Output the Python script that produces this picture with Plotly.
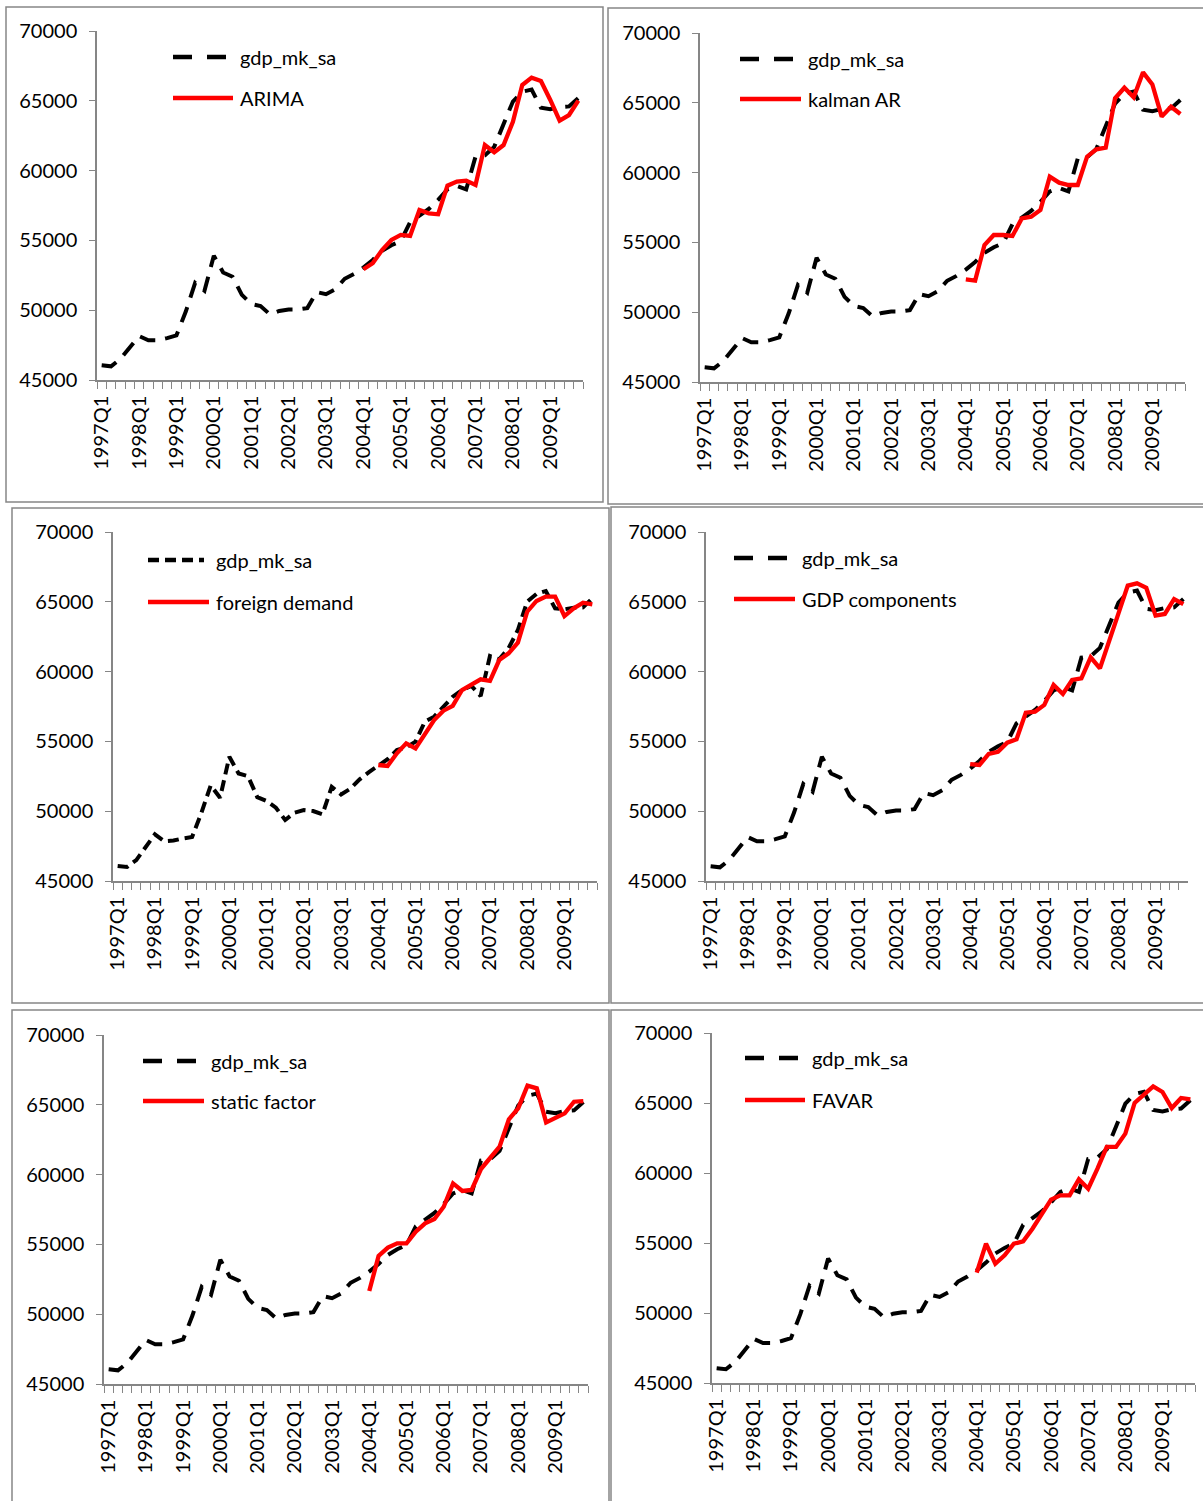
import plotly.graph_objects as go

W, H = 1203, 1501

# ---------------- data ----------------
quarters = [f"{y}Q{q}" for y in range(1997, 2010) for q in range(1, 5)]
tick_text = [q if q.endswith("Q1") else "" for q in quarters]
forecast_quarters = quarters[28:]  # 2004Q1 .. 2009Q4

y_ticks = [45000, 50000, 55000, 60000, 65000, 70000]

gdp_mk_sa = [46050, 45980, 46500, 47300, 48150, 47850, 47850, 48000, 48200, 49900,
             51950, 51400, 53900, 52700, 52400, 51100, 50450, 50300, 49700, 49950,
             50050, 50050, 50150, 51300, 51150, 51500, 52250, 52600, 53050, 53600,
             54250, 54650, 54950, 56300, 56800, 57250, 57900, 58650, 58900, 58650,
             61000, 61100, 61700, 63400, 64950, 65650, 65800, 64500, 64400, 64550,
             64600, 65200]

gdp_mk_sa_fd = [46070, 46000, 46500, 47380, 48340, 47850, 47900, 48050, 48150, 49890,
                51850, 50960, 53900, 52700, 52510, 51010, 50730, 50250, 49370, 49890,
                50080, 50010, 49770, 51750, 51200, 51610, 52280, 52800, 53230, 53720,
                54380, 54570, 54980, 56410, 56770, 57440, 58200, 58680, 58970, 58250,
                61120, 60880, 61670, 62980, 65010, 65560, 65770, 64530, 64460, 64580,
                64600, 65250]

arima = [52930, 53360, 54310, 55030, 55390, 55320, 57180, 56940, 56870, 58920,
         59210, 59280, 58970, 61830, 61310, 61830, 63500, 66130, 66660, 66420,
         65060, 63580, 63980, 65010]
kalman_ar = [52350, 52260, 54810, 55530, 55530, 55460, 56720, 56840, 57320, 59710,
             59280, 59110, 59110, 61140, 61670, 61790, 65320, 66080, 65390, 67180,
             66320, 64010, 64720, 64200]
foreign_demand = [53310, 53240, 54150, 54860, 54500, 55580, 56530, 57200, 57540, 58680,
                  59090, 59450, 59330, 60830, 61310, 62070, 64290, 65060, 65370, 65370,
                  63980, 64530, 64940, 64820]
gdp_components = [53380, 53310, 54100, 54260, 54910, 55150, 57060, 57130, 57610, 59040,
                  58400, 59400, 59520, 61020, 60230, 62310, 64170, 66160, 66320, 66010,
                  64010, 64130, 65200, 64840]
static_factor = [51660, 54170, 54770, 55080, 55080, 55910, 56510, 56820, 57700, 59370,
                 58830, 58900, 60400, 61170, 62000, 63960, 64750, 66370, 66180, 63740,
                 64080, 64390, 65220, 65270]
favar = [52880, 54950, 53520, 54120, 54950, 55120, 56020, 57020, 58100, 58400,
         58400, 59550, 58880, 60310, 61860, 61860, 62810, 65000, 65600, 66190,
         65790, 64640, 65360, 65260]

panels = [
    ("ARIMA", arima, gdp_mk_sa, "long"),
    ("kalman AR", kalman_ar, gdp_mk_sa, "long"),
    ("foreign demand", foreign_demand, gdp_mk_sa_fd, "short"),
    ("GDP components", gdp_components, gdp_mk_sa, "long"),
    ("static factor", static_factor, gdp_mk_sa, "long"),
    ("FAVAR", favar, gdp_mk_sa, "long"),
]

# ---------------- layout geometry (pixels) ----------------
plot_boxes = [  # x0, x1, ytop, ybottom
    (97, 583, 31, 380),
    (700, 1185, 33, 382),
    (113, 597, 532, 881),
    (706, 1188, 532, 881),
    (104, 588, 1035, 1384),
    (712, 1195, 1033, 1383),
]
frames = [  # x0, y0, x1, y1
    (6, 7, 603, 502),
    (608, 8, 1205, 504),
    (12, 508, 609, 1003),
    (611, 507, 1205, 1003),
    (12, 1010, 609, 1504),
    (611, 1010, 1205, 1504),
]
legend_pos = [  # line x0, black y, red y, text x
    (173, 57, 98, 238),
    (740, 59, 99, 806),
    (148, 560, 602, 214),
    (734, 558, 599, 800),
    (143, 1061, 1101, 209),
    (745, 1058, 1100, 810),
]

AXIS_GREY = "#868686"
FONT = "Lato, 'Open Sans', sans-serif"
dash_plot = {"long": "16px,10px", "short": "11px,6px"}
dash_leg = {"long": "19px,15px", "short": "11px,6px"}


def px(x):
    return x / W


def py(y):
    return 1 - y / H


fig = go.Figure()
layout = dict(
    width=W, height=H, autosize=False,
    margin=dict(l=0, r=0, t=0, b=0, pad=0, autoexpand=False),
    paper_bgcolor="white", plot_bgcolor="white", showlegend=False,
    font=dict(family=FONT, color="black"),
)
shapes = []
annotations = []

for k, (name, red_vals, black_vals, dstyle) in enumerate(panels):
    n = k + 1
    xa = "x" if n == 1 else f"x{n}"
    ya = "y" if n == 1 else f"y{n}"
    fig.add_trace(go.Scatter(
        x=quarters, y=black_vals, mode="lines", name="gdp_mk_sa",
        line=dict(color="black", width=4, dash=dash_plot[dstyle]),
        xaxis=xa, yaxis=ya, hoverinfo="x+y"))
    fig.add_trace(go.Scatter(
        x=forecast_quarters, y=red_vals, mode="lines", name=name,
        line=dict(color="#FF0000", width=4.3),
        xaxis=xa, yaxis=ya, hoverinfo="x+y"))

    x0, x1, yt, yb = plot_boxes[k]
    xkey = "xaxis" if n == 1 else f"xaxis{n}"
    ykey = "yaxis" if n == 1 else f"yaxis{n}"
    layout[xkey] = dict(
        domain=[px(x0), px(x1)], anchor=ya, type="category", automargin=False,
        categoryorder="array", categoryarray=quarters,
        range=[-0.5, len(quarters) - 0.5],
        tickmode="array", tickvals=quarters, ticktext=tick_text,
        tickson="boundaries", ticks="outside", ticklen=7, tickwidth=1.3,
        tickcolor=AXIS_GREY, showline=True, linecolor=AXIS_GREY, linewidth=1.5,
        showgrid=False, zeroline=False, tickangle=-90, ticklabelstandoff=6,
        tickfont=dict(family=FONT, size=20, color="black"), fixedrange=True,
    )
    layout[ykey] = dict(
        domain=[py(yb), py(yt)], anchor=xa, range=[45000, 70000], automargin=False,
        tickmode="array", tickvals=y_ticks, ticktext=[str(v) for v in y_ticks],
        ticks="outside", ticklen=6, tickwidth=1.3, tickcolor=AXIS_GREY,
        showline=True, linecolor=AXIS_GREY, linewidth=1.5,
        showgrid=False, zeroline=False, ticklabelstandoff=8,
        tickfont=dict(family=FONT, size=20, color="black"), fixedrange=True,
    )

    # chart frame
    fx0, fy0, fx1, fy1 = frames[k]
    shapes.append(dict(type="rect", xref="paper", yref="paper",
                       x0=px(fx0), x1=px(fx1), y0=py(fy1), y1=py(fy0),
                       line=dict(color=AXIS_GREY, width=1.5), fillcolor="rgba(0,0,0,0)",
                       layer="below"))

    # legend
    lx, by, ry, tx = legend_pos[k]
    shapes.append(dict(type="line", xref="paper", yref="paper",
                       x0=px(lx), x1=px(tx - 10), y0=py(by), y1=py(by),
                       line=dict(color="black", width=4.5, dash=dash_leg[dstyle])))
    shapes.append(dict(type="line", xref="paper", yref="paper",
                       x0=px(lx), x1=px(tx - 5), y0=py(ry), y1=py(ry),
                       line=dict(color="#FF0000", width=4.5)))
    annotations.append(dict(xref="paper", yref="paper", x=px(tx), y=py(by),
                            text="gdp_mk_sa", showarrow=False, xanchor="left",
                            yanchor="middle", font=dict(family=FONT, size=20, color="black")))
    annotations.append(dict(xref="paper", yref="paper", x=px(tx), y=py(ry),
                            text=name, showarrow=False, xanchor="left",
                            yanchor="middle", font=dict(family=FONT, size=20, color="black")))

layout["shapes"] = shapes
layout["annotations"] = annotations
fig.update_layout(**layout)

post = (
    "document.documentElement.style.margin='0';"
    "document.documentElement.style.overflow='hidden';"
    "document.body.style.margin='0';"
    "document.body.style.overflow='hidden';"
    "var gd=document.getElementById('{plot_id}');"
    "gd.style.position='absolute';gd.style.left='0px';gd.style.top='0px';"
    "window.scrollTo(0,0);"
)

fig.write_html(
    "out.html",
    config={"responsive": False, "displayModeBar": False},
    post_script=post,
)
